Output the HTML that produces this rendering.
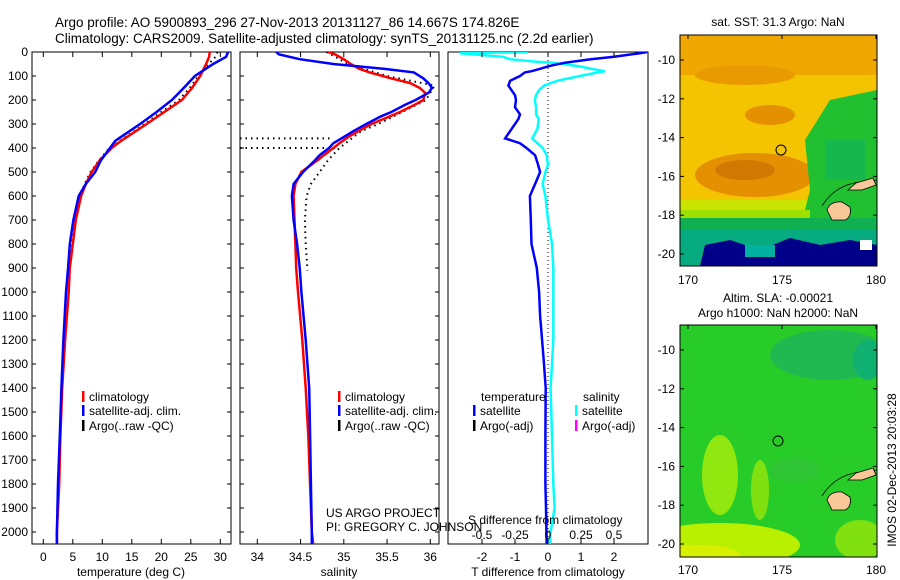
<!DOCTYPE html>
<html><head><meta charset="utf-8"><style>
html,body{margin:0;padding:0;background:#fff;}
svg{display:block;font-family:"Liberation Sans",Arial,sans-serif;}
</style></head><body>
<svg id="fig" width="900" height="580" viewBox="0 0 900 580" xmlns="http://www.w3.org/2000/svg">
<defs>
<clipPath id="c1"><rect x="32" y="52" width="199" height="492"/></clipPath>
<clipPath id="c2"><rect x="240" y="52" width="199" height="492"/></clipPath>
<clipPath id="c3"><rect x="448" y="52" width="200" height="492"/></clipPath>
<clipPath id="m1"><rect x="680" y="35" width="197" height="231"/></clipPath>
<clipPath id="m2"><rect x="680" y="325" width="197" height="232"/></clipPath>
</defs>
<text x="55" y="27" font-size="13.5">Argo profile: AO 5900893_296 27-Nov-2013 20131127_86 14.667S 174.826E</text>
<text x="55" y="43" font-size="13.5">Climatology: CARS2009. Satellite-adjusted climatology: synTS_20131125.nc (2.2d earlier)</text>

<!-- SST map -->
<g clip-path="url(#m1)">
<rect x="680" y="35" width="197" height="231" fill="#f4c400"/>
<rect x="680" y="35" width="197" height="40" fill="#f0a800"/>
<ellipse cx="745" cy="75" rx="50" ry="10" fill="#e89a00"/>
<ellipse cx="755" cy="175" rx="60" ry="22" fill="#e49000"/>
<ellipse cx="745" cy="170" rx="30" ry="10" fill="#d07800"/>
<ellipse cx="770" cy="115" rx="25" ry="10" fill="#e49000"/>
<rect x="680" y="200" width="197" height="30" fill="#c8e400"/>
<polygon points="805,140 830,100 877,90 877,230 800,230 810,190" fill="#20c030"/>
<rect x="825" y="140" width="40" height="40" fill="#10b060" opacity="0.6"/>
<rect x="680" y="210" width="130" height="10" fill="#a0e000"/>
<rect x="680" y="218" width="197" height="48" fill="#10b050"/>
<rect x="680" y="230" width="197" height="36" fill="#00a8a0" opacity="0.6"/>
<polygon points="700,266 705,245 730,240 760,250 790,238 820,245 850,240 877,245 877,266" fill="#000088"/>
<rect x="745" y="245" width="30" height="12" fill="#00b0a0"/>
<rect x="860" y="240" width="12" height="10" fill="#ffffff"/>
</g>
<rect x="680" y="35" width="197" height="231" fill="none" stroke="#000" stroke-width="1"/>
<text x="778" y="26" font-size="12" text-anchor="middle">sat. SST: 31.3 Argo: NaN</text>

<!-- SLA map -->
<g clip-path="url(#m2)">
<rect x="680" y="325" width="197" height="232" fill="#28cc28"/>
<ellipse cx="830" cy="355" rx="60" ry="25" fill="#20b850"/>
<ellipse cx="868" cy="360" rx="15" ry="20" fill="#10b070"/>
<ellipse cx="720" cy="475" rx="18" ry="40" fill="#90e810"/>
<ellipse cx="760" cy="490" rx="9" ry="30" fill="#80e010"/>
<ellipse cx="720" cy="545" rx="80" ry="22" fill="#b8f000"/>
<ellipse cx="700" cy="555" rx="40" ry="10" fill="#d8f000"/>
<ellipse cx="860" cy="540" rx="25" ry="20" fill="#80e010"/>
<ellipse cx="795" cy="470" rx="25" ry="12" fill="#30c038" opacity="0.7"/>
</g>
<rect x="680" y="325" width="197" height="232" fill="none" stroke="#000" stroke-width="1"/>
<text x="778" y="302" font-size="12" text-anchor="middle">Altim. SLA: -0.00021</text>
<text x="778" y="317" font-size="12" text-anchor="middle">Argo h1000: NaN h2000: NaN</text>
<text transform="translate(896,470) rotate(-90)" font-size="12" text-anchor="middle">IMOS 02-Dec-2013 20:03:28</text>

<g id="maplabels"></g>
<g id="plots"></g>
</svg>
<script>
// ---- data ----
const depthsT=[0,20,50,100,150,200,250,300,370,400,450,500,550,600,700,800,900,1000,1200,1400,1600,1800,2000,2060];
const tempClim=[28.2,28.1,27.6,26.6,25.2,23.5,20.5,17.5,13.2,11.6,9.6,8.2,7.2,6.4,5.5,5.0,4.5,4.3,3.7,3.2,2.9,2.7,2.3,2.3];
const tempSat=[31.3,31.0,28.8,25.7,23.8,21.8,19.2,16.4,12.2,11.3,9.8,8.8,7.2,6.0,5.1,4.5,4.2,3.85,3.4,3.07,2.8,2.5,2.3,2.3];
const depthsA=[0,20,50,100,150,200,250,300,370,400,450,500,550,600,700,800,900];
const tempArgo=[29.5,29.2,28.0,26.3,24.8,23.0,20.0,17.2,13.0,11.2,9.5,8.0,7.0,6.2,5.4,4.8,4.4];
const depthsS=[0,10,30,50,70,85,110,130,150,170,200,220,250,270,300,330,350,380,400,430,450,500,550,600,700,800,900,1000,1200,1400,1600,1800,2000,2060];
const salClim=[34.82,34.9,35.0,35.08,35.18,35.3,35.55,35.77,35.88,35.94,35.92,35.82,35.65,35.52,35.32,35.17,35.07,34.95,34.88,34.77,34.70,34.51,34.44,34.42,34.43,34.44,34.45,34.47,34.52,34.56,34.59,34.61,34.63,34.65];
const salSat=[34.22,34.25,34.49,34.88,35.46,35.81,35.92,35.98,36.02,35.98,35.83,35.71,35.55,35.42,35.26,35.11,35.02,34.88,34.83,34.72,34.67,34.53,34.42,34.40,34.42,34.46,34.49,34.51,34.56,34.60,34.61,34.62,34.63,34.63];
const depthsSA=[0,50,100,140,200,300,330,400,450,500,550,600,700,800,910];
const salArgo=[34.8,35.05,35.5,36.05,35.95,35.4,35.2,34.95,34.82,34.72,34.62,34.57,34.55,34.56,34.58];
const badDepths=[360,400];
const badSal=[34.88,34.92];
const depthsD=[0,5,20,30,40,45,55,60,70,80,85,100,120,140,160,180,200,230,260,280,320,360,380,400,430,470,500,550,600,700,800,900,1000,1100,1200,1300,1400,1600,1800,1900,2000,2060];
const tDiff=[3.0,2.8,2.0,1.3,0.76,0.5,0.15,0.0,-0.24,-0.5,-0.7,-0.85,-1.15,-1.2,-1.1,-1.0,-0.97,-1.0,-0.85,-0.9,-1.1,-1.3,-0.85,-0.65,-0.39,-0.3,-0.24,-0.39,-0.55,-0.52,-0.5,-0.34,-0.27,-0.24,-0.18,-0.12,-0.07,-0.08,-0.08,-0.06,-0.05,-0.04];
const sDiff=[-0.15,-0.67,-0.34,-0.29,-0.1,0.04,0.18,0.24,0.33,0.43,0.38,0.24,0.07,-0.03,-0.07,-0.09,-0.1,-0.09,-0.09,-0.07,-0.08,-0.12,-0.08,-0.04,-0.01,0,-0.02,-0.04,-0.02,0,0.03,0.04,0.04,0.04,0.04,0.03,0.02,0.03,0.04,0.05,0.02,0.01];
const depthTicks=[0,100,200,300,400,500,600,700,800,900,1000,1100,1200,1300,1400,1500,1600,1700,1800,1900,2000];
const tempTicks=[0,5,10,15,20,25,30];
const salTicks=[34,34.5,35,35.5,36];
const salTickLabels=["34","34.5","35","35.5","36"];
const tdTicks=[-2,-1,0,1,2];
const sdTicks=[-0.5,-0.25,0,0.25,0.5];
const sdTickLabels=["-0.5","-0.25","0","0.25","0.5"];
const latTicks=[-10,-12,-14,-16,-18,-20];
const lonTicks=[170,175,180];

// ---- scales ----
const yD=d=>52+0.24*d;
const xT=t=>43.3+5.9*t;
const xS=s=>257.3+86.5*(s-34);
const xTD=t=>548+33*t;
const xSD=s=>548+132*s;
const NS='http://www.w3.org/2000/svg';
const plots=document.getElementById('plots');
function mk(tag,attrs,parent){const e=document.createElementNS(NS,tag);for(const k in attrs)e.setAttribute(k,attrs[k]);(parent||plots).appendChild(e);return e;}
function txt(x,y,s,anchor,parent,size){const e=mk('text',{x:x,y:y,'font-size':size||12,'text-anchor':anchor||'start'},parent);e.textContent=s;return e;}
function pts(xs,ds,fx){return xs.map((v,i)=>fx(v).toFixed(1)+','+yD(ds[i]).toFixed(1)).join(' ');}

const panels=[[32,231,'c1'],[240,439,'c2'],[448,648,'c3']];
depthTicks.forEach(d=>{const t=txt(28,yD(d)+4,String(d),'end');

});
panels.forEach((p,i)=>{
  const r=mk('rect',{x:p[0],y:52,width:p[1]-p[0],height:492,fill:'none',stroke:'#000','stroke-width':1});
  
  
  if(i<2){depthTicks.forEach(d=>{
    mk('line',{x1:p[0],x2:p[0]+4,y1:yD(d),y2:yD(d),stroke:'#000'});
    mk('line',{x1:p[1]-4,x2:p[1],y1:yD(d),y2:yD(d),stroke:'#000'});});}
});
const g1=mk('g',{'clip-path':'url(#c1)'});


let l=mk('polyline',{points:pts(tempArgo,depthsA,xT),fill:'none',stroke:'#000','stroke-width':2,'stroke-dasharray':'1.5,4'},g1);


l=mk('polyline',{points:pts(tempClim,depthsT,xT),fill:'none',stroke:'#f00','stroke-width':2.5},g1);


l=mk('polyline',{points:pts(tempSat,depthsT,xT),fill:'none',stroke:'#00f','stroke-width':2.5},g1);


tempTicks.forEach(t=>{mk('line',{x1:xT(t),x2:xT(t),y1:544,y2:539,stroke:'#000'});mk('line',{x1:xT(t),x2:xT(t),y1:52,y2:57,stroke:'#000'});
const e=txt(xT(t),561,String(t),'middle');

});
let e=txt(131,576,'temperature (deg C)','middle');


const g2=mk('g',{'clip-path':'url(#c2)'});


l=mk('polyline',{points:pts(salArgo,depthsSA,xS),fill:'none',stroke:'#000','stroke-width':2,'stroke-dasharray':'1.5,4'},g2);


badDepths.forEach((d,i)=>{const b=mk('line',{x1:240,x2:xS(badSal[i]),y1:yD(d),y2:yD(d),stroke:'#000','stroke-width':2,'stroke-dasharray':'1.5,4'},g2);

});
l=mk('polyline',{points:pts(salClim,depthsS,xS),fill:'none',stroke:'#f00','stroke-width':2.5},g2);


l=mk('polyline',{points:pts(salSat,depthsS,xS),fill:'none',stroke:'#00f','stroke-width':2.5},g2);


salTicks.forEach((s,i)=>{mk('line',{x1:xS(s),x2:xS(s),y1:544,y2:539,stroke:'#000'});mk('line',{x1:xS(s),x2:xS(s),y1:52,y2:57,stroke:'#000'});
const e=txt(xS(s),561,salTickLabels[i],'middle');

});
e=txt(339,576,'salinity','middle');


const g3=mk('g',{'clip-path':'url(#c3)'});


l=mk('line',{x1:548,x2:548,y1:52,y2:544,stroke:'#000','stroke-dasharray':'1,3'},g3);


l=mk('polyline',{points:pts(sDiff,depthsD,xSD),fill:'none',stroke:'#0ff','stroke-width':2.5},g3);


l=mk('polyline',{points:pts(tDiff,depthsD,xTD),fill:'none',stroke:'#00f','stroke-width':2.5},g3);


tdTicks.forEach(t=>{mk('line',{x1:xTD(t),x2:xTD(t),y1:544,y2:539,stroke:'#000'});mk('line',{x1:xTD(t),x2:xTD(t),y1:52,y2:57,stroke:'#000'});
const e=txt(xTD(t),561,String(t),'middle');

});
sdTicks.forEach((s,i)=>{const e=txt(xSD(s),539,sdTickLabels[i],'middle');

});
e=txt(548,576,'T difference from climatology','middle');


e=txt(468,524,'S difference from climatology','start');


function leg(x,y,color,label,name){const g=mk('g',{});


mk('rect',{x:x,y:y-6,width:2.5,height:11,fill:color},g);txt(x+7,y+4,label,'start',g);}
leg(82,397,'#f00','climatology','legend-temp-climatology');
leg(82,411,'#00f','satellite-adj. clim.','legend-temp-satellite');
leg(82,426,'#000','Argo(..raw -QC)','legend-temp-argo');
leg(338,397,'#f00','climatology','legend-sal-climatology');
leg(338,411,'#00f','satellite-adj. clim.','legend-sal-satellite');
leg(338,426,'#000','Argo(..raw -QC)','legend-sal-argo');
e=txt(481,401,'temperature','start');


e=txt(583,401,'salinity','start');


leg(473,411,'#00f','satellite','legend-diff-temp-satellite');
leg(473,426,'#000','Argo(-adj)','legend-diff-temp-argo');
leg(575,411,'#0ff','satellite','legend-diff-sal-satellite');
leg(575,426,'#f0f','Argo(-adj)','legend-diff-sal-argo');
e=txt(326,517,'US ARGO PROJECT','start');


e=txt(326,531,'PI: GREGORY C. JOHNSON','start');



const ml=document.getElementById('maplabels');
[[35,60,254,280],[325,350,544,570]].forEach((m,mi)=>{
  const ys=v=>m[1]+(m[2]-m[1])*(v+10)/(-10);
  const xs=v=>688+(876-688)*(v-170)/10;
  latTicks.forEach(v=>{mk('line',{x1:680,x2:684,y1:ys(v),y2:ys(v),stroke:'#000'},ml);mk('line',{x1:873,x2:877,y1:ys(v),y2:ys(v),stroke:'#000'},ml);
    const t=txt(675,ys(v)+4,String(v),'end',ml);
    
    });
  lonTicks.forEach(v=>{mk('line',{x1:xs(v),x2:xs(v),y1:m[0],y2:m[0]+4,stroke:'#000'},ml);
    const t=txt(xs(v),m[3]+4,String(v),'middle',ml);
    
    });
  const oy=mi===0?0:290;
  const land=mk('g',{},ml);
  
  
  mk('path',{d:`M822,${206+oy} Q835,${185+oy} 860,${182+oy} L877,${180+oy}`,fill:'none',stroke:'#000','stroke-width':0.8},land);
  mk('path',{d:`M827,${210+oy} Q830,${201+oy} 842,${202+oy} L850,${207+oy} Q852,${217+oy} 845,${220+oy} L832,${220+oy} Z`,fill:'#f8c898',stroke:'#000','stroke-width':0.8},land);
  mk('path',{d:`M848,${190+oy} L856,${183+oy} L873,${178+oy} L876,${185+oy} L862,${190+oy} Z`,fill:'#f8c898',stroke:'#000','stroke-width':0.8},land);
  const c=mk('circle',{cx:mi===0?781:778,cy:mi===0?150:441,r:5,fill:'none',stroke:'#000','stroke-width':1},ml);
  
  
});
</script>
</body></html>
